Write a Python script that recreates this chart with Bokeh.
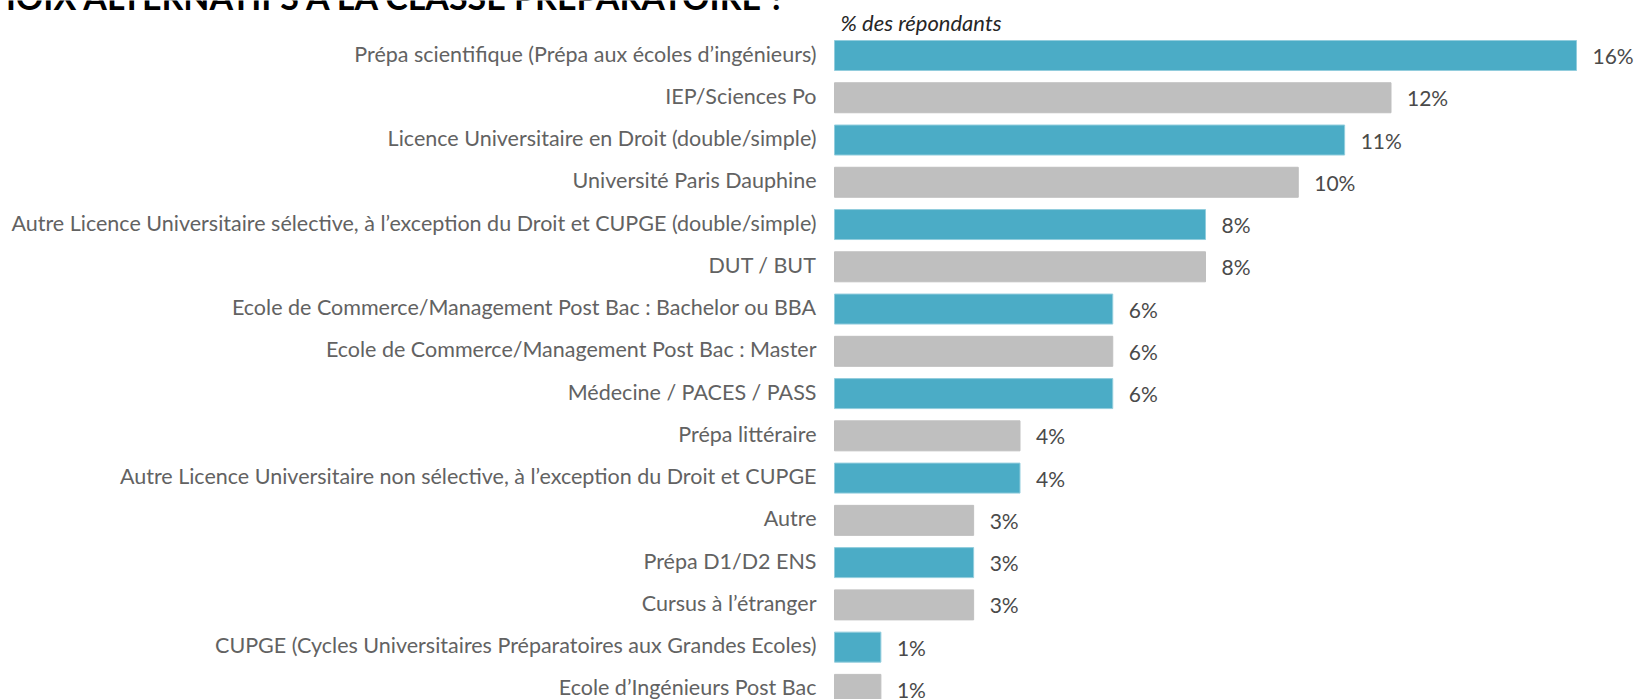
from bokeh.plotting import figure
from bokeh.models import Range1d, ColumnDataSource
from bokeh.embed import file_html
from bokeh.resources import INLINE
from bokeh.core.properties import value

categories = [
    "Prépa scientifique (Prépa aux écoles d’ingénieurs)",
    "IEP/Sciences Po",
    "Licence Universitaire en Droit (double/simple)",
    "Université Paris Dauphine",
    "Autre Licence Universitaire sélective, à l’exception du Droit et CUPGE (double/simple)",
    "DUT / BUT",
    "Ecole de Commerce/Management Post Bac : Bachelor ou BBA",
    "Ecole de Commerce/Management Post Bac : Master",
    "Médecine / PACES / PASS",
    "Prépa littéraire",
    "Autre Licence Universitaire non sélective, à l’exception du Droit et CUPGE",
    "Autre",
    "Prépa D1/D2 ENS",
    "Cursus à l’étranger",
    "CUPGE (Cycles Universitaires Préparatoires aux Grandes Ecoles)",
    "Ecole d’Ingénieurs Post Bac",
]
values = [16, 12, 11, 10, 8, 8, 6, 6, 6, 4, 4, 3, 3, 3, 1, 1]
value_labels = [f"{v}%" for v in values]
palette = ["#4BACC6", "#BFBFBF"]
edge_palette = ["#92CDDD", "#BFBFBF"]
title_text = "CHOIX ALTERNATIFS À LA CLASSE PRÉPARATOIRE ?"
subtitle_text = "% des répondants"

positions = list(range(len(categories)))
colors = [palette[i % 2] for i in positions]
edges = [edge_palette[i % 2] for i in positions]

W, H = 1637, 699
FONT = "Lato"

# layout geometry (pixels)
zero_px = 834.0
px_per_pct = 46.375
first_center = 55.0
row_px = 42.26

x_start = -zero_px / px_per_pct
x_end = (W - zero_px) / px_per_pct
y_top = -first_center / row_px
y_bottom = (H - first_center) / row_px

src = ColumnDataSource(dict(y=positions, v=values, lab=value_labels, c=colors, e=edges,
                            cat=categories, zero=[0] * len(positions)))

p = figure(width=W, height=H, output_backend="svg", toolbar_location=None,
           x_range=Range1d(x_start, x_end), y_range=Range1d(y_bottom, y_top),
           min_border_left=0, min_border_right=0, min_border_top=0, min_border_bottom=0)
p.outline_line_color = None
p.xgrid.visible = False
p.ygrid.visible = False
p.xaxis.visible = False
p.yaxis.visible = False
p.background_fill_color = "white"
p.border_fill_color = "white"

p.hbar(y="y", right="v", left=0, height=30 / row_px, fill_color="c", line_color="e",
       line_width=1, source=src)

# value labels
p.text(x="v", y="y", text="lab", source=src, x_offset=16, text_baseline="middle",
       text_font=value(FONT), text_font_size="21px", text_color="#4a4a4a")

# category labels
p.text(x="zero", y="y", text="cat", source=src, x_offset=-18, y_offset=-2,
       text_align="right", text_baseline="middle",
       text_font=value(FONT), text_font_size="21.5px", text_color="#626262")

# subtitle
p.text(x=[0], y=[(22 - first_center) / row_px], text=[subtitle_text], x_offset=6,
       text_baseline="alphabetic", text_font=value(FONT), text_font_style="italic",
       text_font_size="22px", text_color="#262626")

# title (cut at top edge, as in the source)
p.text(x=[0], y=[(-4 - first_center) / row_px], text=[title_text], x_offset=-45,
       text_align="right", text_baseline="alphabetic", text_font=value(FONT),
       text_font_style="bold", text_font_size="34px", text_color="#000000")

open("out.html", "w").write(file_html(p, INLINE))
